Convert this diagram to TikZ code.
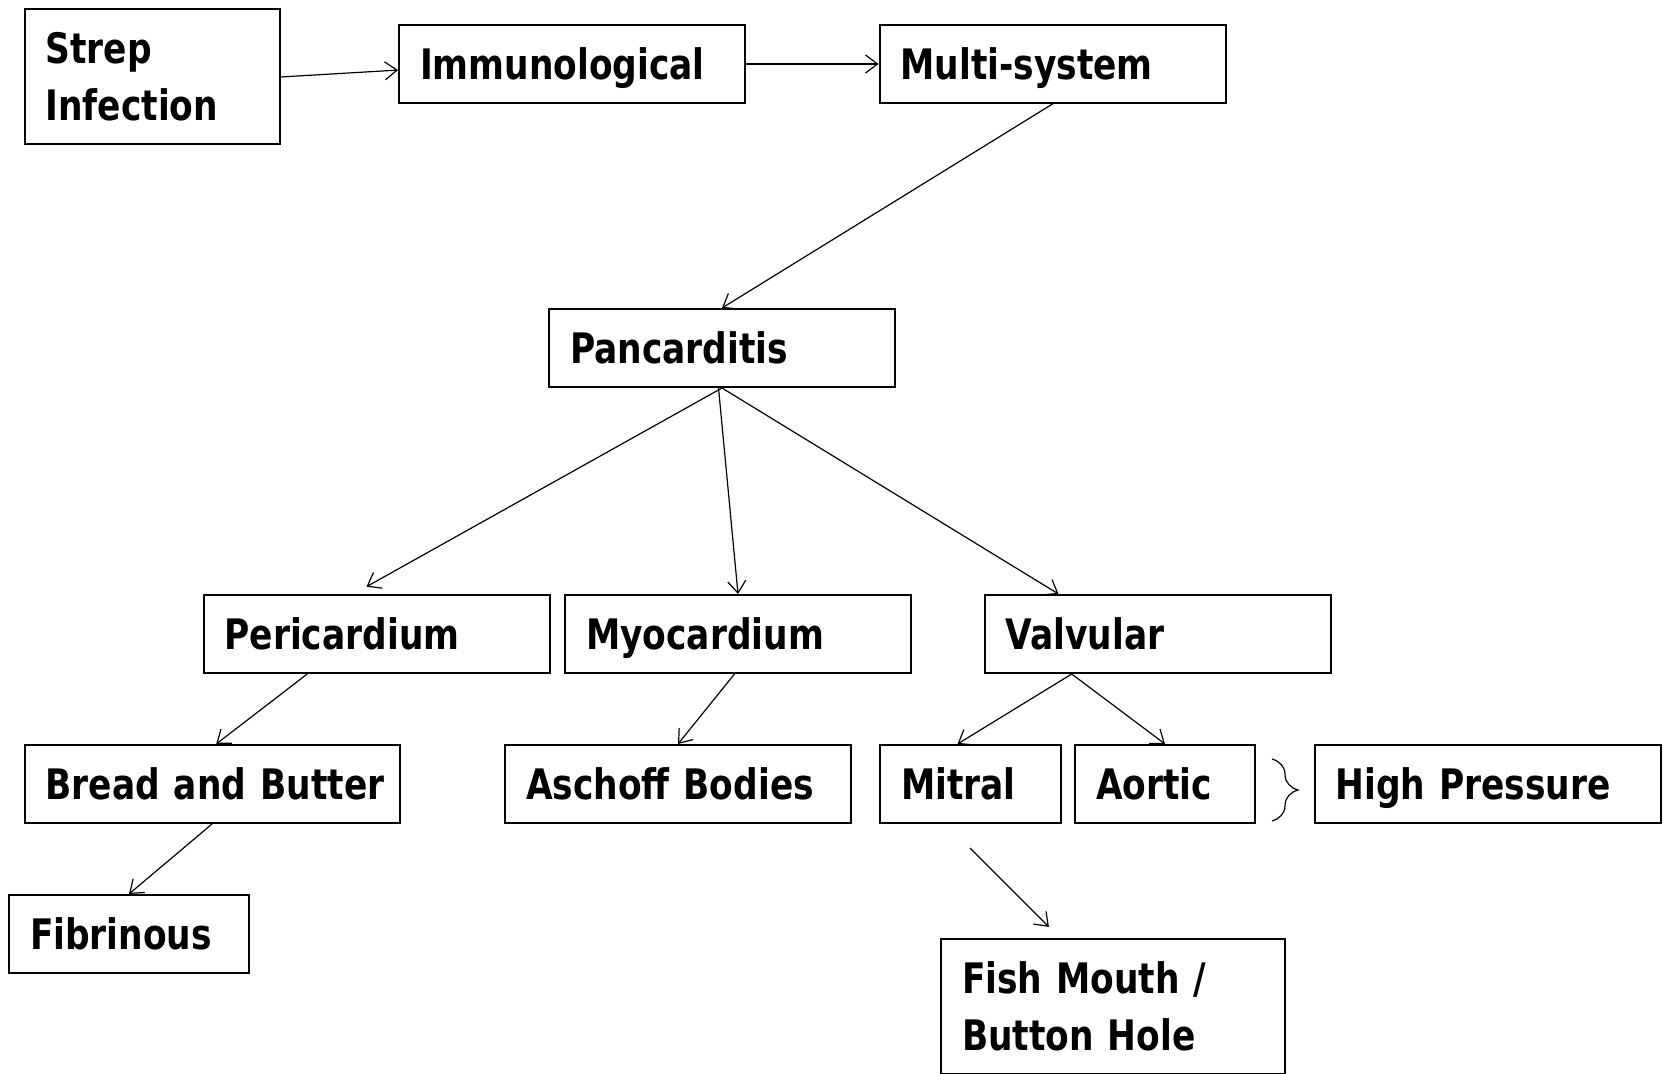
\documentclass[tikz,border=0pt]{standalone}
\usepackage{fontspec}
\setmainfont{DejaVu Sans}[FakeStretch=0.82, WordSpace=0.7]
\usetikzlibrary{arrows.meta}
\usetikzlibrary{decorations.pathreplacing}

\newcommand{\boxfont}{\fontsize{21pt}{28.5pt}\selectfont\bfseries}

\begin{document}
\begin{tikzpicture}[x=0.5pt, y=-0.5pt, box_node/.style={draw, line width=1pt, minimum height=39pt, text width=152pt, text height=20pt, text depth=4.7pt, inner xsep=10.5pt, align=left, font=\boxfont}, two_line/.style={text height={}, text depth={}, minimum height=67.5pt}, arrow_line/.style={draw, line width=0.6pt, -{Straight Barb[length=6pt,width=9pt]}}]

	\useasboundingbox (0,0) rectangle (1669,1074);

	\node[box_node, two_line, text width=106.5pt] (strep) at (152,77) {Strep\\Infection};
	\node[box_node] (immuno) at (572,64) {Immunological};
	\node[box_node] (multi) at (1052.5,64) {Multi-system};

	\node[box_node] (panc) at (722,348) {Pancarditis};

	\node[box_node] (peri) at (376.5,634) {Pericardium};
	\node[box_node] (myo) at (738,634) {Myocardium};
	\node[box_node] (valv) at (1157.5,634) {Valvular};

	\node[box_node, text width=166.5pt] (bread) at (212,784) {\mbox{Bread and Butter}};
	\node[box_node] (aschoff) at (678,784) {Aschoff Bodies};
	\node[box_node, text width=69.5pt] (mitral) at (970.5,784) {Mitral};
	\node[box_node, text width=69pt] (aortic) at (1165,784) {Aortic};
	\node[box_node] (high) at (1487.5,784) {High Pressure};

	\node[box_node, text width=99pt] (fibr) at (129,934) {Fibrinous};
	\node[box_node, two_line, text width=151pt] (fish) at (1113,1006) {Fish Mouth /\\Button Hole};

	\coordinate (mitral_out) at (970,848);

	\path (strep.east) edge[arrow_line] (immuno.182)
(immuno.east) edge[arrow_line] (multi.west)
(multi.south) edge[arrow_line] (panc.north)

(panc.south) edge[arrow_line, shorten >=7.5pt] (peri.120)
(panc.265) edge[arrow_line] (myo.north)
(panc.south) edge[arrow_line] (valv.158)

(peri.210) edge[arrow_line] (bread.84)
(myo.265) edge[arrow_line] (aschoff.north)
(valv.205) edge[arrow_line] (mitral.108)
(valv.205) edge[arrow_line] (aortic.north)

(bread.south) edge[arrow_line] (fibr.north)
(mitral_out) edge[arrow_line, shorten >=7.5pt] (fish.128);

	\draw[line width=0.6pt, decorate, decoration={brace, amplitude=13pt}] ([xshift=8pt,yshift=-7.5pt]aortic.north east) -- ([xshift=8pt,yshift=1.5pt]aortic.south east);
	\end{tikzpicture}
\end{document}
